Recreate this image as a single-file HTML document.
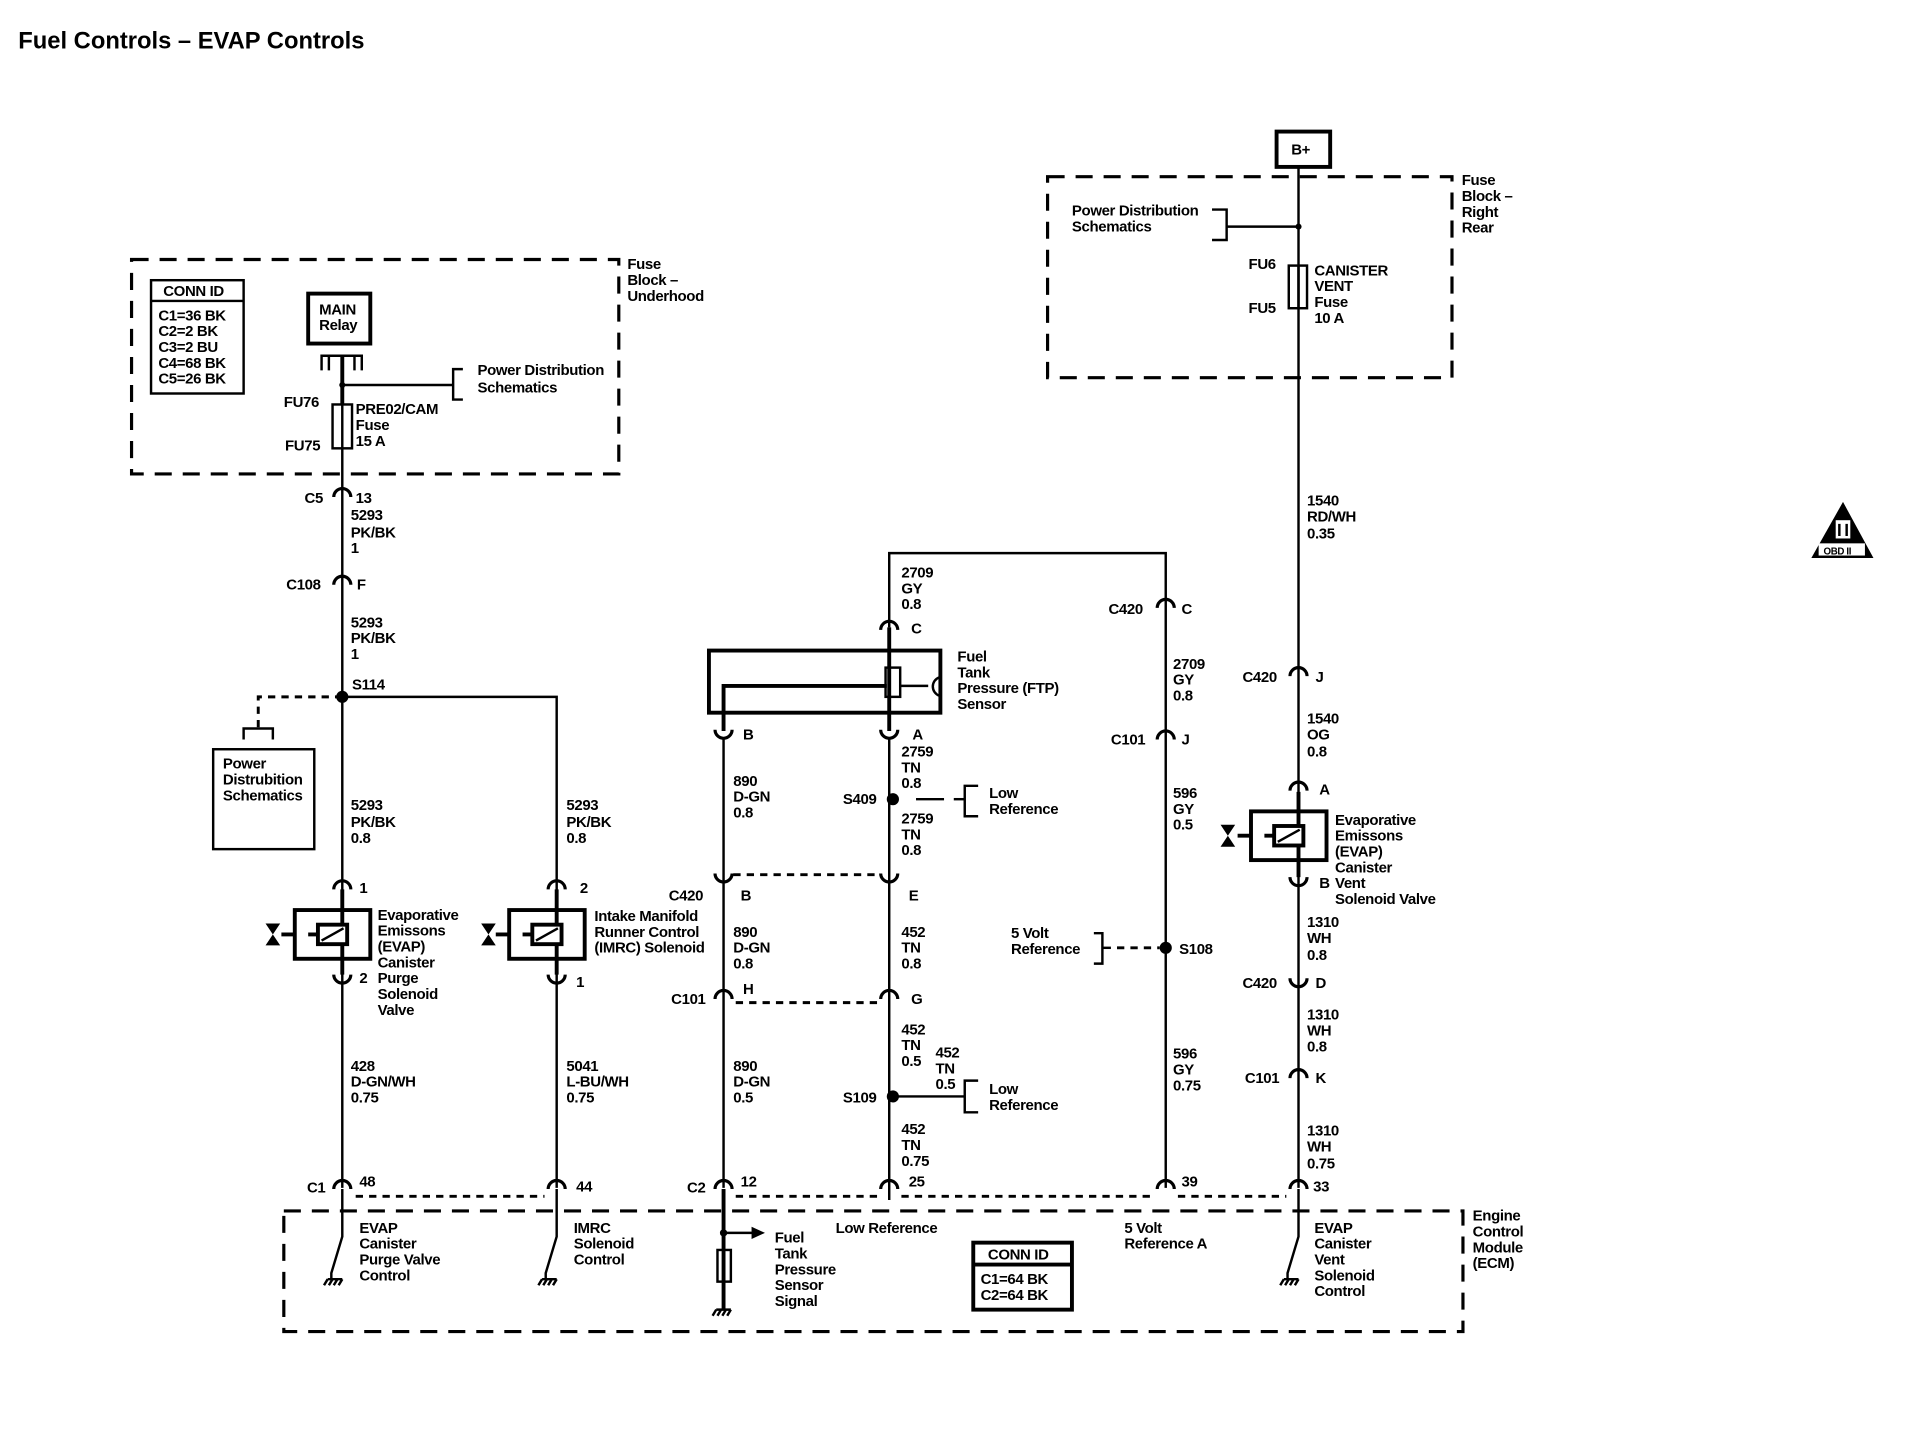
<!DOCTYPE html>
<html><head><meta charset="utf-8"><style>
html,body{margin:0;padding:0;background:#fff;}
svg{display:block}
text{font-family:"Liberation Sans",sans-serif;font-size:12.3px;font-weight:bold;fill:#000;letter-spacing:-0.3px}
.w{stroke:#000;stroke-width:2;fill:none}
.t{stroke:#000;stroke-width:3.2;fill:none}
.d{stroke:#000;stroke-width:2.6;fill:none;stroke-dasharray:14 9}
.dt{stroke:#000;stroke-width:2.4;fill:none;stroke-dasharray:6 5}
.cn{stroke:#000;stroke-width:2.6;fill:none}
</style></head><body>
<svg width="1910" height="1440" viewBox="0 0 1568 1182" preserveAspectRatio="none" xmlns="http://www.w3.org/2000/svg">
<defs>
<g id="cd"><path d="M-7,6 A7,7 0 0 1 7,6" class="cn"/></g>
<g id="cu"><path d="M-7,-6 A7,7 0 0 0 7,-6" class="cn"/></g>
<g id="gnd"><path d="M-6,0 H6 M-6,0 l-3,5 M-2,0 l-3,5 M2,0 l-3,5 M6,0 l-3,5" stroke="#000" stroke-width="2" fill="none"/></g>
<g id="bow"><path d="M-6,-9 H6 L-6,9 H6 Z" fill="#000"/></g>
<g id="sol"><rect x="-31" y="-20" width="62" height="40" class="t"/><rect x="-12" y="-8" width="24" height="16" class="t"/><path d="M-9,5 L9,-5" class="w"/><path d="M-20,0 H-12 M-31,0 H-42" class="t"/></g>
</defs>
<text x="15" y="40" style="font-size:19.5px;letter-spacing:0">Fuel Controls – EVAP Controls</text>

<!-- OBD -->
<g transform="translate(17,3)">
<path d="M1496,409 L1521,455 L1470,455 Z" fill="#000"/>
<rect x="1476" y="443" width="38" height="10" fill="#fff"/>
<text x="1480" y="452" style="font-size:8px">OBD II</text>
<rect x="1490" y="424" width="12" height="15" fill="#fff"/>
<path d="M1493,427 V437 M1499,427 V437" stroke="#000" stroke-width="2"/>
</g>

<!-- Left fuse block -->
<rect x="108" y="213" width="400" height="176" class="d"/>
<text x="515" y="221">Fuse</text><text x="515" y="234">Block –</text><text x="515" y="247">Underhood</text>
<rect x="124" y="230" width="76" height="93" class="w"/><path d="M124,247 H200" class="w"/>
<text x="134" y="243">CONN ID</text>
<text x="130" y="263">C1=36 BK</text><text x="130" y="276">C2=2 BK</text><text x="130" y="289">C3=2 BU</text><text x="130" y="302">C4=68 BK</text><text x="130" y="315">C5=26 BK</text>
<rect x="253" y="241" width="51" height="41" class="t"/><text x="262" y="258">MAIN</text><text x="262" y="271">Relay</text>
<path d="M264,304 V292 H297 V304 M270,292 V304 M291,292 V304" class="w"/>
<path d="M281,292 V332" class="t"/>
<rect x="273" y="332" width="16" height="36" class="w"/><path d="M281,332 V368" class="w"/>
<circle cx="281" cy="316" r="2.5"/><path d="M281,316 H372" class="w"/><path d="M380,303 H372 V328 H380" class="w"/>
<text x="392" y="308">Power Distribution</text><text x="392" y="322">Schematics</text>
<text x="233" y="334">FU76</text><text x="234" y="370">FU75</text>
<text x="292" y="340">PRE02/CAM</text><text x="292" y="353">Fuse</text><text x="292" y="366">15 A</text>

<path d="M281,368 V975" class="w"/>
<use href="#cd" x="281" y="402"/><text x="250" y="413">C5</text><text x="292" y="413">13</text>
<text x="288" y="427">5293</text><text x="288" y="441">PK/BK</text><text x="288" y="454">1</text>
<use href="#cd" x="281" y="474"/><text x="235" y="484">C108</text><text x="293" y="484">F</text>
<text x="288" y="515">5293</text><text x="288" y="528">PK/BK</text><text x="288" y="541">1</text>
<circle cx="281" cy="572" r="5"/><text x="289" y="566">S114</text>
<path d="M281,572 H457 V975" class="w"/>
<path d="M281,572 H212 V598" class="dt"/><path d="M200,607 V598 H224 V607" class="w"/>
<rect x="175" y="615" width="83" height="82" class="w"/>
<text x="183" y="631">Power</text><text x="183" y="644">Distrubition</text><text x="183" y="657">Schematics</text>
<text x="288" y="665">5293</text><text x="288" y="679">PK/BK</text><text x="288" y="692">0.8</text>
<text x="465" y="665">5293</text><text x="465" y="679">PK/BK</text><text x="465" y="692">0.8</text>
<use href="#cd" x="281" y="724"/><text x="295" y="733">1</text>
<use href="#cd" x="457" y="724"/><text x="476" y="733">2</text>
<path d="M281,730 V800 M457,730 V800" class="t"/>
<rect x="242" y="747" width="62" height="40" fill="#fff"/><rect x="418" y="747" width="62" height="40" fill="#fff"/>
<use href="#sol" x="273" y="767"/><use href="#sol" x="449" y="767"/>
<path d="M281,747 V759 M281,775 V787 M457,747 V759 M457,775 V787" class="t"/>
<use href="#bow" x="224" y="767"/><use href="#bow" x="401" y="767"/>
<use href="#cu" x="281" y="806"/><use href="#cu" x="457" y="806"/>
<text x="310" y="755">Evaporative</text><text x="310" y="768">Emissons</text><text x="310" y="781">(EVAP)</text><text x="310" y="794">Canister</text><text x="310" y="807">Purge</text><text x="310" y="820">Solenoid</text><text x="310" y="833">Valve</text>
<text x="295" y="807">2</text><text x="473" y="810">1</text>
<text x="488" y="756">Intake Manifold</text><text x="488" y="769">Runner Control</text><text x="488" y="782">(IMRC) Solenoid</text>
<text x="288" y="879">428</text><text x="288" y="892">D-GN/WH</text><text x="288" y="905">0.75</text>
<text x="465" y="879">5041</text><text x="465" y="892">L-BU/WH</text><text x="465" y="905">0.75</text>
<use href="#cd" x="281" y="970"/><use href="#cd" x="457" y="970"/>
<text x="252" y="979">C1</text><text x="295" y="974">48</text><text x="473" y="978">44</text>
<path d="M292,982 H447" class="dt"/>

<!-- ECM -->
<rect x="233" y="994" width="968" height="99" class="d"/>
<text x="1209" y="1002">Engine</text><text x="1209" y="1015">Control</text><text x="1209" y="1028">Module</text><text x="1209" y="1041">(ECM)</text>
<path d="M281,976 V1015 L272,1045 V1050" class="w"/><use href="#gnd" x="275" y="1050"/>
<path d="M457,976 V1015 L448,1045 V1050" class="w"/><use href="#gnd" x="451" y="1050"/>
<text x="295" y="1012">EVAP</text><text x="295" y="1025">Canister</text><text x="295" y="1038">Purge Valve</text><text x="295" y="1051">Control</text>
<text x="471" y="1012">IMRC</text><text x="471" y="1025">Solenoid</text><text x="471" y="1038">Control</text>
<path d="M594,976 V1075" class="t"/><circle cx="594" cy="1012" r="3"/><path d="M594,1012 H618" class="w"/><path d="M617,1007 L628,1012 L617,1017 Z"/>
<rect x="589" y="1026" width="11" height="26" fill="#fff" class="w"/><use href="#gnd" x="594" y="1075"/>
<text x="636" y="1020">Fuel</text><text x="636" y="1033">Tank</text><text x="636" y="1046">Pressure</text><text x="636" y="1059">Sensor</text><text x="636" y="1072">Signal</text>
<text x="686" y="1012">Low Reference</text>
<rect x="799" y="1020" width="81" height="55" class="t"/><path d="M799,1038 H880" class="t"/>
<text x="811" y="1034">CONN ID</text><text x="805" y="1054">C1=64 BK</text><text x="805" y="1067">C2=64 BK</text>
<text x="923" y="1012">5 Volt</text><text x="923" y="1025">Reference A</text>
<path d="M1066,976 V1015 L1057,1045 V1050" class="w"/><use href="#gnd" x="1060" y="1050"/>
<text x="1079" y="1012">EVAP</text><text x="1079" y="1025">Canister</text><text x="1079" y="1038">Vent</text><text x="1079" y="1051">Solenoid</text><text x="1079" y="1064">Control</text>

<!-- middle -->
<path d="M730,515 V454 H957 V975" class="w"/>
<text x="740" y="474">2709</text><text x="740" y="487">GY</text><text x="740" y="500">0.8</text>
<use href="#cd" x="730" y="511"/><text x="748" y="520">C</text>
<path d="M730,515 V600" class="t"/>
<rect x="582" y="534" width="190" height="51" class="t"/>
<path d="M594,600 V563 H728" class="t"/>
<rect x="727" y="548" width="12" height="24" fill="#fff" class="w"/>
<path d="M739,563 H762" class="w"/><path d="M771,556 A8,8 0 0 0 771,571" class="w"/>
<text x="786" y="543">Fuel</text><text x="786" y="556">Tank</text><text x="786" y="569">Pressure (FTP)</text><text x="786" y="582">Sensor</text>
<use href="#cu" x="594" y="605"/><use href="#cu" x="730" y="605"/>
<text x="610" y="607">B</text><text x="749" y="607">A</text>
<path d="M594,605 V975 M730,605 V985" class="w"/>
<text x="740" y="621">2759</text><text x="740" y="634">TN</text><text x="740" y="647">0.8</text>
<circle cx="733" cy="656" r="5"/><text x="692" y="660">S409</text><path d="M752,656 H775" class="w"/><path d="M803,645 H792 V670 H803" class="w"/><path d="M783,656 H792" class="w"/>
<text x="812" y="655">Low</text><text x="812" y="668">Reference</text>
<text x="740" y="676">2759</text><text x="740" y="689">TN</text><text x="740" y="702">0.8</text>
<text x="602" y="645">890</text><text x="602" y="658">D-GN</text><text x="602" y="671">0.8</text>
<use href="#cu" x="594" y="723"/><use href="#cu" x="730" y="723"/>
<path d="M602,718 H722" class="dt"/>
<text x="549" y="739">C420</text><text x="608" y="739">B</text><text x="746" y="739">E</text>
<text x="602" y="769">890</text><text x="602" y="782">D-GN</text><text x="602" y="795">0.8</text>
<text x="740" y="769">452</text><text x="740" y="782">TN</text><text x="740" y="795">0.8</text>
<use href="#cd" x="594" y="814"/><use href="#cd" x="730" y="814"/>
<path d="M604,823 H720" class="dt"/>
<text x="551" y="824">C101</text><text x="610" y="816">H</text><text x="748" y="824">G</text>
<text x="740" y="849">452</text><text x="740" y="862">TN</text><text x="740" y="875">0.5</text>
<text x="768" y="868">452</text><text x="768" y="881">TN</text><text x="768" y="894">0.5</text>
<circle cx="733" cy="900" r="5"/><text x="692" y="905">S109</text><path d="M733,900 H792" class="w"/><path d="M803,887 H792 V913 H803" class="w"/>
<text x="812" y="898">Low</text><text x="812" y="911">Reference</text>
<text x="602" y="879">890</text><text x="602" y="892">D-GN</text><text x="602" y="905">0.5</text>
<text x="740" y="931">452</text><text x="740" y="944">TN</text><text x="740" y="957">0.75</text>
<use href="#cd" x="594" y="970"/><use href="#cd" x="730" y="970"/><use href="#cd" x="957" y="970"/><use href="#cd" x="1066" y="970"/>
<text x="564" y="979">C2</text><text x="608" y="974">12</text><text x="746" y="974">25</text><text x="970" y="974">39</text><text x="1078" y="978">33</text>
<path d="M604,982 H720 M740,982 H947 M967,982 H1056" class="dt"/>

<use href="#cd" x="957" y="493"/><text x="910" y="504">C420</text><text x="970" y="504">C</text>
<text x="963" y="549">2709</text><text x="963" y="562">GY</text><text x="963" y="575">0.8</text>
<use href="#cd" x="957" y="601"/><text x="912" y="611">C101</text><text x="970" y="611">J</text>
<text x="963" y="655">596</text><text x="963" y="668">GY</text><text x="963" y="681">0.5</text>
<circle cx="957" cy="778" r="5"/><text x="968" y="783">S108</text><path d="M917,778 H952" class="dt"/><path d="M898,766 H905 V791 H898" class="w"/><path d="M905,778 H912" class="w"/>
<text x="830" y="770">5 Volt</text><text x="830" y="783">Reference</text>
<text x="963" y="869">596</text><text x="963" y="882">GY</text><text x="963" y="895">0.75</text>

<!-- right -->
<rect x="1048" y="108" width="44" height="29" class="t"/><text x="1060" y="127">B+</text>
<path d="M1066,137 V975" class="w"/>
<rect x="860" y="145" width="332" height="165" class="d"/>
<text x="1200" y="152">Fuse</text><text x="1200" y="165">Block –</text><text x="1200" y="178">Right</text><text x="1200" y="191">Rear</text>
<text x="880" y="177">Power Distribution</text><text x="880" y="190">Schematics</text>
<path d="M995,172 H1007 V197 H995 M1007,186 H1066" class="w"/><circle cx="1066" cy="186" r="2.5"/>
<rect x="1058" y="218" width="15" height="35" fill="#fff" class="w"/><path d="M1066,218 V253" class="w"/>
<text x="1025" y="221">FU6</text><text x="1025" y="257">FU5</text>
<text x="1079" y="226">CANISTER</text><text x="1079" y="239">VENT</text><text x="1079" y="252">Fuse</text><text x="1079" y="265">10 A</text>
<text x="1073" y="415">1540</text><text x="1073" y="428">RD/WH</text><text x="1073" y="442">0.35</text>
<use href="#cd" x="1066" y="549"/><text x="1020" y="560">C420</text><text x="1080" y="560">J</text>
<text x="1073" y="594">1540</text><text x="1073" y="607">OG</text><text x="1073" y="621">0.8</text>
<use href="#cd" x="1066" y="643"/><text x="1083" y="652">A</text>
<path d="M1066,650 V720" class="t"/>
<rect x="1027" y="666" width="62" height="40" fill="#fff"/><use href="#sol" x="1058" y="686"/>
<path d="M1066,666 V678 M1066,694 V706" class="t"/>
<use href="#bow" x="1008" y="686"/>
<use href="#cu" x="1066" y="726"/><text x="1083" y="729">B</text>
<text x="1096" y="677">Evaporative</text><text x="1096" y="690">Emissons</text><text x="1096" y="703">(EVAP)</text><text x="1096" y="716">Canister</text><text x="1096" y="729">Vent</text><text x="1096" y="742">Solenoid Valve</text>
<text x="1073" y="761">1310</text><text x="1073" y="774">WH</text><text x="1073" y="788">0.8</text>
<use href="#cu" x="1066" y="809"/><text x="1020" y="811">C420</text><text x="1080" y="811">D</text>
<text x="1073" y="837">1310</text><text x="1073" y="850">WH</text><text x="1073" y="863">0.8</text>
<use href="#cd" x="1066" y="879"/><text x="1022" y="889">C101</text><text x="1080" y="889">K</text>
<text x="1073" y="932">1310</text><text x="1073" y="945">WH</text><text x="1073" y="959">0.75</text>
</svg>
</body></html>
